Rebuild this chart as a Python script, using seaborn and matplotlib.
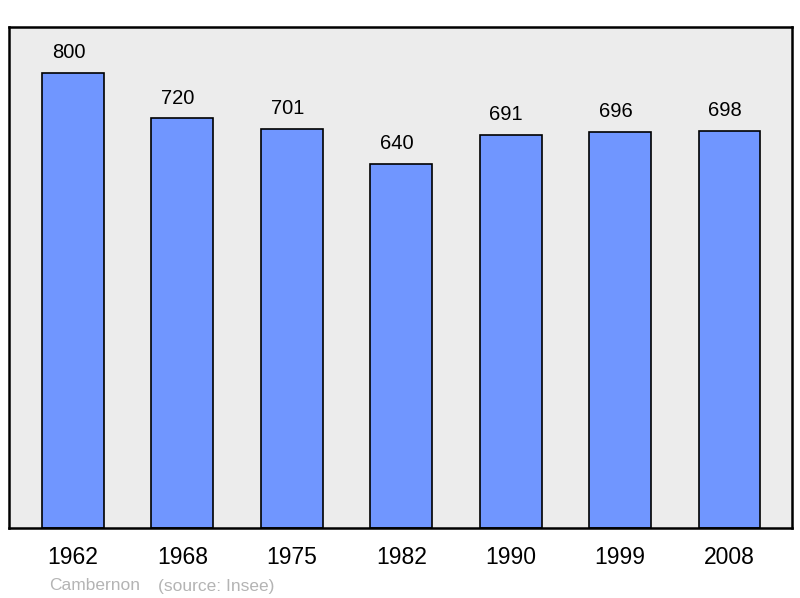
import matplotlib
matplotlib.use("Agg")
import matplotlib.pyplot as plt
import seaborn as sns
import pandas as pd

# Population data
years = ["1962", "1968", "1975", "1982", "1990", "1999", "2008"]
population = [800, 720, 701, 640, 691, 696, 698]

df = pd.DataFrame({"year": years, "population": population})

sns.set_style("white")
plt.rcParams["font.family"] = ["Liberation Sans", "DejaVu Sans"]

fig = plt.figure(figsize=(8, 5.98), dpi=100)
ax = fig.add_axes([9 / 800, 70 / 598, 783 / 800, 501 / 598])
ax.set_facecolor("#ececec")

sns.barplot(data=df, x="year", y="population", color="#7096ff", saturation=1,
            width=0.566, edgecolor="black", linewidth=1.2, ax=ax)

# value labels sit slightly left of the bar centre, as in the original
for i, v in enumerate(population):
    ax.text(i - 0.04, v + 35, str(v), ha="center", va="center", fontsize=14.5, color="black")

ax.set_xlim(-0.584, 6.571)
ax.set_ylim(0, 880)
ax.set_yticks([])
ax.set_xlabel("")
ax.set_ylabel("")
ax.tick_params(axis="x", length=0, labelsize=16.5, pad=13, labelcolor="black")
for s in ax.spines.values():
    s.set_color("black")
    s.set_linewidth(1.8)

fig.text(49 / 800, 1 - 586 / 598, "Cambernon", fontsize=12.5, color="#b4b4b4", va="center")
fig.text(158 / 800, 1 - 586 / 598, "(source: Insee)", fontsize=12.5, color="#b4b4b4", va="center")

fig.savefig("out.png", dpi=100)
